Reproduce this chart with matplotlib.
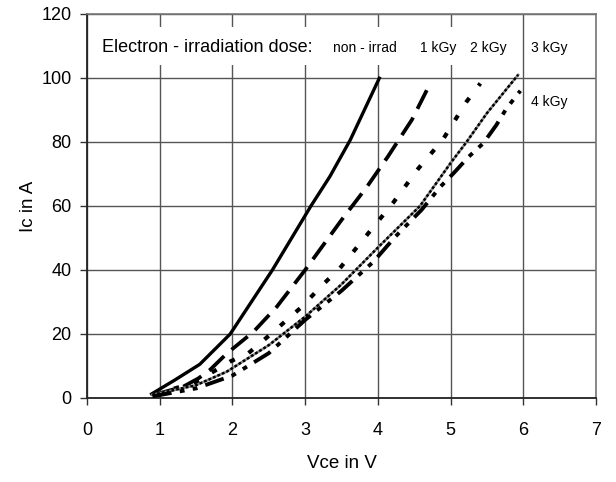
import matplotlib.pyplot as plt
from matplotlib.patches import Rectangle

plt.rcParams["font.family"] = ["Liberation Sans", "DejaVu Sans"]
plt.rcParams["lines.scale_dashes"] = False

# Ic(Vce) curves per electron-irradiation dose
vce_0 = [0.87, 1.2, 1.55, 1.97, 2.55, 3.08, 3.34, 3.62, 4.03]
ic_0 = [1, 5.5, 10.5, 20, 40, 60, 69.2, 80.6, 100.4]

vce_1 = [0.92, 1.32, 1.53, 1.69, 1.9, 2.01, 2.29, 2.61, 3.0, 3.5, 3.85, 4.14, 4.47, 4.72]
ic_1 = [1, 3.5, 6.1, 8.75, 13.4, 15.5, 20.7, 28.5, 40, 55.6, 66, 75.5, 87, 98.3]

vce_2 = [0.92, 1.5, 1.97, 2.22, 2.54, 2.93, 3.27, 3.48, 3.87, 4.21, 4.56, 4.89, 5.22, 5.41]
ic_2 = [1, 5, 11.4, 14, 20.2, 28, 36, 40.6, 51.5, 61, 71.8, 80.6, 92.6, 98.3]

vce_3 = [0.9, 1.5, 1.92, 2.5, 3.0, 3.5, 4.0, 4.58, 5.0, 5.22, 5.5, 5.93]
ic_3 = [1, 4, 8.2, 16.5, 25.4, 35.5, 47, 60, 73.4, 80, 89, 101]

vce_4 = [0.9, 1.5, 2.0, 2.5, 3.0, 3.5, 3.94, 4.24, 4.6, 4.86, 5.04, 5.25, 5.45, 5.63, 5.77, 5.96]
ic_4 = [0.5, 3, 7, 14, 24.4, 33.5, 42.6, 50.4, 58.75, 66, 70.2, 75.4, 79.6, 85.3, 90.5, 96]

dose_labels = ["non - irrad", "1 kGy", "2 kGy", "3 kGy", "4 kGy"]

fig = plt.figure(figsize=(6.16, 4.82), dpi=100)
ax = fig.add_axes([0.1412, 0.1743, 0.8263, 0.7967])

ax.plot(vce_0, ic_0, color="black", lw=2.4, solid_capstyle="butt", zorder=5)
ax.plot(vce_1, ic_1, color="black", lw=2.7, linestyle=(0, (15, 7)), dash_capstyle="butt", zorder=5)
ax.plot(vce_2, ic_2, color="black", lw=3.0, linestyle=(0, (4, 11)), dash_capstyle="butt", zorder=5)
ax.plot(vce_3, ic_3, color="#888888", lw=1.8, zorder=5)
ax.plot(vce_3, ic_3, color="black", lw=1.8, linestyle=(0, (2, 1.5)), dash_capstyle="butt", zorder=5)
ax.plot(vce_4, ic_4, color="black", lw=2.8, linestyle=(0, (14, 6, 3.5, 6, 3.5, 6)), dash_capstyle="butt", zorder=5)

ax.set_xlim(0, 7)
ax.set_ylim(0, 120)
ax.set_xticks(range(0, 8))
ax.set_yticks(range(0, 121, 20))
ax.grid(True, color="#555555", lw=1.0)
ax.set_axisbelow(True)

for side in ("top", "right"):
    ax.spines[side].set_color("#777777")
    ax.spines[side].set_linewidth(1.2)
for side in ("left", "bottom"):
    ax.spines[side].set_color("#222222")
    ax.spines[side].set_linewidth(1.3)

ax.tick_params(direction="out", length=5, width=1, color="#333333", labelsize=13, pad=6)
ax.tick_params(axis="x", pad=12)

ax.set_xlabel("Vce in V", fontsize=13.5, labelpad=12)
ax.set_ylabel("Ic in A", fontsize=13.5, labelpad=3)

# white panel behind the legend text
ax.add_patch(Rectangle((0.12, 104), 5.75, 12, facecolor="white", edgecolor="none", zorder=2))

ax.text(0.2, 109.5, "Electron - irradiation dose:", fontsize=13, va="center", zorder=6)
ax.text(3.38, 109.5, dose_labels[0], fontsize=10, va="center", zorder=6)
ax.text(4.58, 109.5, dose_labels[1], fontsize=10, va="center", zorder=6)
ax.text(5.27, 109.5, dose_labels[2], fontsize=10, va="center", zorder=6)
ax.text(6.1, 109.5, dose_labels[3], fontsize=10, va="center", zorder=6)
ax.text(6.1, 92.5, dose_labels[4], fontsize=10, va="center", zorder=6)

fig.savefig("out.png", dpi=100)
